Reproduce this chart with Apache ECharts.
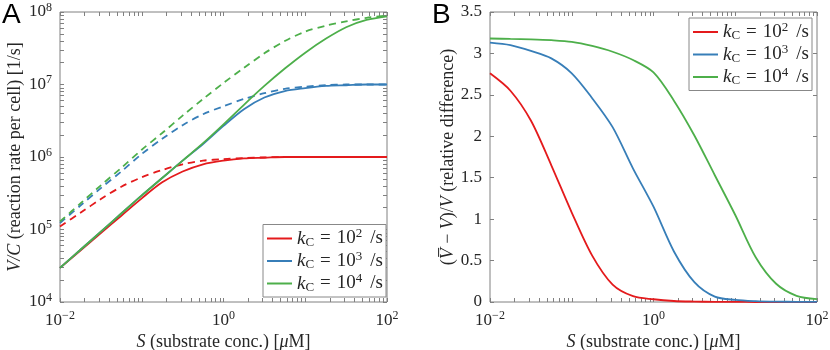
<!DOCTYPE html>
<html>
<head>
<meta charset="utf-8">
<script src="https://cdn.jsdelivr.net/npm/echarts@6/dist/echarts.min.js"></script>
<style>
  html, body { margin: 0; padding: 0; background: #fff; }
  #chart { width: 830px; height: 350px; }
</style>
</head>
<body>
<div id="chart"></div>
<script>
// substrate concentration S [uM], quarter-decade samples
const sVals = [0.01, 0.01778, 0.03162, 0.05623, 0.1, 0.1778, 0.3162, 0.5623, 1,
               1.778, 3.162, 5.623, 10, 17.78, 31.62, 56.23, 100];

// panel A, solid: V/C [1/s]
const vcRed   = [2.95e4, 5.13e4, 8.91e4, 1.55e5, 2.69e5, 4.47e5, 6.31e5, 7.94e5, 8.91e5, 9.55e5, 9.77e5, 1e6, 1e6, 1e6, 1e6, 1e6, 1e6];
const vcBlue  = [2.95e4, 5.25e4, 9.33e4, 1.66e5, 2.95e5, 5.13e5, 8.91e5, 1.51e6, 2.69e6, 4.57e6, 6.61e6, 8.13e6, 8.91e6, 9.55e6, 9.77e6, 1e7, 1e7];
const vcGreen = [2.95e4, 5.25e4, 9.33e4, 1.66e5, 2.95e5, 5.13e5, 8.91e5, 1.55e6, 2.82e6, 5.25e6, 9.55e6, 1.66e7, 2.75e7, 4.27e7, 6.17e7, 7.76e7, 8.71e7];

// panel A, dashed: Vbar/C [1/s]
const vbRed   = [1.10e5, 1.70e5, 2.63e5, 3.89e5, 5.25e5, 6.61e5, 7.94e5, 8.91e5, 9.33e5, 9.66e5, 9.89e5, 1e6, 1e6, 1e6, 1e6, 1e6, 1e6];
const vbBlue  = [1.23e5, 2.14e5, 3.72e5, 6.31e5, 1.10e6, 1.78e6, 2.75e6, 3.89e6, 5.01e6, 6.31e6, 7.59e6, 8.71e6, 9.33e6, 9.77e6, 1e7, 1e7, 1e7];
const vbGreen = [1.29e5, 2.29e5, 4.07e5, 7.08e5, 1.26e6, 2.14e6, 3.72e6, 6.31e6, 1.05e7, 1.70e7, 2.69e7, 3.98e7, 5.37e7, 6.46e7, 7.41e7, 8.32e7, 8.91e7];

// panel B: (Vbar - V)/V
const rdRed   = [2.76, 2.55, 2.19, 1.65, 1.08, 0.56, 0.21, 0.07, 0.033, 0.012, 0.005, 0.002, 0.001, 0, 0, 0, 0];
const rdBlue  = [3.13, 3.10, 3.03, 2.94, 2.76, 2.46, 2.11, 1.61, 1.15, 0.61, 0.24, 0.065, 0.025, 0.01, 0.004, 0.002, 0.001];
const rdGreen = [3.18, 3.175, 3.17, 3.16, 3.14, 3.09, 3.02, 2.92, 2.77, 2.43, 2.01, 1.53, 1.05, 0.54, 0.22, 0.075, 0.035];

const kcNames = ['k2', 'k3', 'k4'];
const kcExp = ['2', '3', '4'];
const colors = ['#e41a1c', '#377eb8', '#4daf4a'];
// tick labels, as decade exponents
const xLabelExp = [-2, 0, 2];
const yLabelExpA = [4, 5, 6, 7, 8];
const linTicksB = [0, 0.5, 1, 1.5, 2, 2.5, 3, 3.5];

const SERIF = '"Liberation Serif", "DejaVu Serif", serif';
const TXT = '#262626';
const AXC = '#808080';

// exponents of 1..9 x 10^e, for log-axis tick marks
function logTicks(lo, hi) {
  const out = [];
  for (let e = lo; e < hi; e++) {
    for (let m = 1; m < 10; m++) out.push(e + Math.log10(m));
  }
  out.push(hi);
  return out;
}

function expLabel(v) {
  const e = Math.round(v);
  return '10{sup|' + (e < 0 ? '\u2212' + (-e) : e) + '}';
}

const italic = { fontStyle: 'italic', fontFamily: SERIF, fontSize: 18, color: TXT };
const nameStyle = { fontFamily: SERIF, fontSize: 18, color: TXT, rich: { i: italic } };
const labelRich = { sup: { fontFamily: SERIF, fontSize: 12, color: TXT, padding: [0, 0, 9, 0] } };

// decoration axis (ticks + labels only); log axes drawn in exponent space
function decoAxis(grid, pos, min, max, ticks, labels, fmt) {
  return {
    type: 'value', gridIndex: grid, position: pos, min: min, max: max,
    axisLine: { show: false, onZero: false }, splitLine: { show: false },
    axisTick: { show: true, inside: true, length: 4, customValues: ticks, lineStyle: { color: AXC } },
    axisLabel: labels ? {
      show: true, customValues: labels, formatter: fmt, color: TXT,
      fontFamily: SERIF, fontSize: 17, rich: labelRich, margin: 8
    } : { show: false }
  };
}

// data axes, hidden
function dataAxis(grid, type, min, max) {
  const a = { type: type, gridIndex: grid, min: min, max: max, show: false, axisLine: { onZero: false } };
  if (type === 'log') a.logBase = 10;
  return a;
}

const xName = {
  name: '{i|S} (substrate conc.) [{i|\u03bc}M]', nameLocation: 'middle', nameGap: 31,
  nameMoveOverlap: false, nameTextStyle: nameStyle
};

const xAxes = [
  dataAxis(0, 'log', 0.01, 100),
  dataAxis(2, 'log', 0.01, 100),
  Object.assign(decoAxis(1, 'bottom', -2, 2, logTicks(-2, 2), xLabelExp, expLabel), xName),
  decoAxis(1, 'top', -2, 2, logTicks(-2, 2), null),
  Object.assign(decoAxis(3, 'bottom', -2, 2, logTicks(-2, 2), xLabelExp, expLabel), xName),
  decoAxis(3, 'top', -2, 2, logTicks(-2, 2), null)
];

const yAxes = [
  dataAxis(0, 'log', 1e4, 1e8),
  dataAxis(2, 'value', 0, 3.5),
  Object.assign(decoAxis(1, 'left', 4, 8, logTicks(4, 8), yLabelExpA, expLabel), {
    name: '{i|V/C} (reaction rate per cell) [1/s]', nameLocation: 'middle', nameGap: 36, nameTextStyle: nameStyle
  }),
  decoAxis(1, 'right', 4, 8, logTicks(4, 8), null),
  Object.assign(decoAxis(3, 'left', 0, 3.5, linTicksB, linTicksB, v => String(v)), {
    name: '({i|V\u0305} \u2212 {i|V})/{i|V} (relative difference)', nameLocation: 'middle', nameGap: 31, nameTextStyle: nameStyle
  }),
  decoAxis(3, 'right', 0, 3.5, linTicksB, null)
];

function pairs(ys) { return sVals.map((s, i) => [s, ys[i]]); }

function line(name, data, color, ai, dashed) {
  return {
    name: name, type: 'line', xAxisIndex: ai, yAxisIndex: ai, data: pairs(data),
    showSymbol: false, smooth: 0.3, silent: true,
    lineStyle: { color: color, width: 1.8, type: dashed ? [7, 5] : 'solid' },
    itemStyle: { color: color }
  };
}

const series = [
  line('dA2', vbRed, colors[0], 0, true),
  line('dA3', vbBlue, colors[1], 0, true),
  line('dA4', vbGreen, colors[2], 0, true),
  line(kcNames[0], vcRed, colors[0], 0, false),
  line(kcNames[1], vcBlue, colors[1], 0, false),
  line(kcNames[2], vcGreen, colors[2], 0, false),
  line('b2', rdRed, colors[0], 1, false),
  line('b3', rdBlue, colors[1], 1, false),
  line('b4', rdGreen, colors[2], 1, false)
];

const legendText = {
  fontFamily: SERIF, fontSize: 19, color: TXT,
  rich: {
    i: { fontFamily: SERIF, fontSize: 19, fontStyle: 'italic', color: TXT },
    sub: { fontFamily: SERIF, fontSize: 13, color: TXT, padding: [8, 0, 0, 0] },
    sup: { fontFamily: SERIF, fontSize: 13, color: TXT, padding: [0, 0, 9, 0] },
    eq: { fontFamily: SERIF, fontSize: 19, color: TXT, padding: [0, 6, 0, 6] },
    u: { fontFamily: SERIF, fontSize: 19, color: TXT, padding: [0, 0, 0, 8] }
  }
};
function legendFmt(name) {
  const e = kcExp[kcNames.indexOf(name)];
  return '{i|k}{sub|C}{eq|=}10{sup|' + e + '}{u|/s}';
}
function legend(opts) {
  return Object.assign({
    data: kcNames, orient: 'vertical', icon: 'rect', itemWidth: 25, itemHeight: 2,
    itemGap: 1, padding: [3, 3, 3, 4], backgroundColor: '#fff', borderColor: '#888', borderWidth: 1,
    borderRadius: 0, selectedMode: false, formatter: legendFmt, textStyle: legendText
  }, opts);
}

const rectA = { left: 60, top: 12, width: 327, height: 290, outerBoundsMode: 'none', containLabel: false };
const rectB = { left: 490, top: 12, width: 327, height: 290, outerBoundsMode: 'none', containLabel: false };

const chart = echarts.init(document.getElementById('chart'), null, { renderer: 'canvas' });
chart.setOption({
  animation: false,
  backgroundColor: '#fff',
  grid: [
    Object.assign({}, rectA),
    Object.assign({ show: true, borderColor: AXC, borderWidth: 1, backgroundColor: 'transparent' }, rectA),
    Object.assign({}, rectB),
    Object.assign({ show: true, borderColor: AXC, borderWidth: 1, backgroundColor: 'transparent' }, rectB)
  ],
  xAxis: xAxes,
  yAxis: yAxes,
  legend: [
    legend({ right: 444, bottom: 53 }),
    legend({ right: 18, top: 18 })
  ],
  graphic: [
    { type: 'text', left: 2, top: 1, style: { text: 'A', font: '28px "Liberation Sans", sans-serif', fill: '#000' } },
    { type: 'text', left: 432, top: 1, style: { text: 'B', font: '28px "Liberation Sans", sans-serif', fill: '#000' } }
  ],
  series: series
});
</script>
</body>
</html>
